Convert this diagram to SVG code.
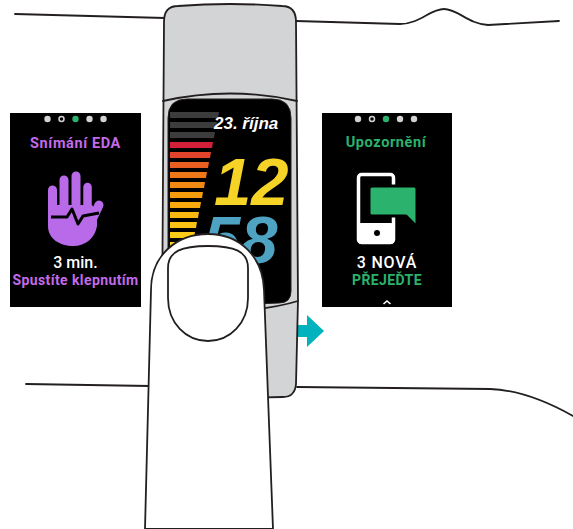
<svg xmlns="http://www.w3.org/2000/svg" width="573" height="529" viewBox="0 0 573 529">
  <style>
    .ink { fill: none; stroke: #231f20; stroke-width: 1.8; stroke-linecap: round; stroke-linejoin: round; }
    .ui { font-family: Roboto, "Liberation Sans", "DejaVu Sans", sans-serif; text-anchor: middle; }
    .ttl { font-size: 14.5px; font-weight: 700; letter-spacing: 0.6px; }
    .big { font-size: 16px; font-weight: 500; fill: #ffffff; }
    .sub { font-size: 14px; font-weight: 700; letter-spacing: 0.4px; }
    .face { font-family: "Liberation Sans", Arial, sans-serif; font-weight: 700; font-style: italic; }
    .dot { fill: #d3d3d3; }
  </style>
  <defs>
    <g id="pager">
      <circle cx="-28" cy="0" r="3.2" class="dot"/>
      <circle cx="-14" cy="0" r="2.5" fill="#000" stroke="#d3d3d3" stroke-width="1.5"/>
      <circle cx="0" cy="0" r="3.2" fill="#2bb26c"/>
      <circle cx="14" cy="0" r="3.2" class="dot"/>
      <circle cx="28" cy="0" r="3.2" class="dot"/>
    </g>
  </defs>

  <rect width="573" height="529" fill="#ffffff"/>

  <!-- arm outline -->
  <g id="arm">
    <path class="ink" d="M15,14 L165,18"/>
    <path class="ink" d="M296,21 L400,24 C420,24 430,9 444,9 C458,9 468,24 488,25 L559,21"/>
    <path class="ink" d="M26,384 L150,386"/>
    <path class="ink" d="M297,387 L490,389 C520,390 548,402 573,416"/>
  </g>

  <!-- left screen: EDA scan -->
  <g id="panel-eda">
    <rect x="10" y="113" width="131" height="194" fill="#000"/>
    <use href="#pager" x="75.5" y="119"/>
    <text class="ui ttl" x="75.5" y="148" fill="#c46ae9">Snímání EDA</text>
    <g fill="#b86ae8" stroke="#b86ae8" stroke-linecap="round">
      <line x1="52.5" y1="190" x2="52.5" y2="222" stroke-width="9"/>
      <line x1="64" y1="180" x2="64" y2="215" stroke-width="9"/>
      <line x1="76" y1="176" x2="76" y2="215" stroke-width="9"/>
      <line x1="87.5" y1="187" x2="87.5" y2="218" stroke-width="8.5"/>
      <line x1="99" y1="205" x2="90" y2="224" stroke-width="9"/>
      <path stroke="none" d="M48,205 L48,226 C48,239 60,246 73,246 C86,246 95,238 97,226 L97,212 L92,205 Z"/>
    </g>
    <polyline points="51,217 67,217 72,209 78,224 83,216 99,213" fill="none" stroke="#000" stroke-width="3" stroke-linejoin="round"/>
    <text class="ui big" x="75.5" y="268">3 min.</text>
    <text class="ui sub" x="75.5" y="285" fill="#c46ae9">Spustíte klepnutím</text>
  </g>

  <!-- right screen: notifications -->
  <g id="panel-notify">
    <rect x="322" y="113" width="130" height="194" fill="#000"/>
    <use href="#pager" x="386" y="119"/>
    <text class="ui ttl" x="386" y="147" fill="#2bb26c">Upozornění</text>
    <rect x="358.5" y="174.5" width="35" height="68" rx="3" fill="none" stroke="#fff" stroke-width="3.5"/>
    <rect x="358" y="223" width="36" height="21" rx="3" fill="#fff"/>
    <circle cx="377" cy="233" r="3" fill="#000"/>
    <path d="M372,186 L414,186 Q417,186 417,189 L417,227 L406,216 L372,216 Q369,216 369,213 L369,189 Q369,186 372,186 Z" fill="#2bb26c" stroke="#000" stroke-width="3" stroke-linejoin="round"/>
    <text class="ui big" x="387" y="268" letter-spacing="0.8">3 NOVÁ</text>
    <text class="ui sub" x="387" y="285" fill="#2bb26c">PŘEJEĎTE</text>
    <path d="M383.5,304 L387,301 L390.5,304" fill="none" stroke="#fff" stroke-width="1.6"/>
  </g>

  <!-- swipe arrow -->
  <g id="connectors">
    <path id="swipe-arrow" d="M280,325 L307,325 L307,315 L324,331 L307,347 L307,337 L280,337 Z" fill="#00b2bd"/>
  </g>

  <!-- tracker band with clock face -->
  <g id="tracker">
    <path d="M164,22 Q164,6 178,6 Q230,2 282,6 Q296,6 296,22 L298,300 L296,384 Q295,397 283,397 L240,398 L180,398 L162,330 Z" fill="#d3d4d6" stroke="#231f20" stroke-width="1.8" stroke-linejoin="round"/>
    <path class="ink" d="M163,101 Q230,86 297,101"/>
    <path d="M168,330 L168,118 Q168,99 187,99 L272,99 Q291,99 291,118 L291,291 Q291,303 279,303 L200,306 Z" fill="#000" stroke="#231f20" stroke-width="1"/>
    <path class="ink" d="M240,311 Q275,308 298,301"/>
    <g id="activity-bars">
      <polygon points="170,112 219,112 218,118 170,118" fill="#3c3c3c"/>
      <polygon points="170,122 217,122 216,128 170,128" fill="#3c3c3c"/>
      <polygon points="170,132 215,132 214,138 170,138" fill="#3c3c3c"/>
      <polygon points="170,142 213,142 212,148 170,148" fill="#d31f37"/>
      <polygon points="170,152 211,152 210,158 170,158" fill="#e2432b"/>
      <polygon points="170,162 209,162 208,168 170,168" fill="#e95e21"/>
      <polygon points="170,172 207,172 206,178 170,178" fill="#ee7818"/>
      <polygon points="170,182 205,182 204,188 170,188" fill="#f18a12"/>
      <polygon points="170,192 203,192 202,198 170,198" fill="#f59c0d"/>
      <polygon points="170,202 201,202 200,208 170,208" fill="#f8aa0c"/>
      <polygon points="170,212 199,212 198,218 170,218" fill="#fab70f"/>
      <polygon points="170,222 197,222 196,228 170,228" fill="#fcc214"/>
      <polygon points="170,232 195,232 194,238 170,238" fill="#fdcc19"/>
      <polygon points="170,242 193,242 192,248 170,248" fill="#fdd41d"/>
      <polygon points="170,252 191,252 190,258 170,258" fill="#fed81f"/>
    </g>
    <text class="face" x="214" y="129" font-size="17" fill="#ffffff">23. října</text>
    <text class="face" x="214" y="205" font-size="67" fill="#f5d327">12</text>
    <text class="face" x="203" y="263" font-size="67" fill="#4ea2c2">58</text>
  </g>

  <!-- finger pressing the band -->
  <g id="finger">
    <path d="M145,529 L151,290 C151,256 176,234 208,234 C240,234 263,257 264,290 L273,529 Z" fill="#ffffff" stroke="#231f20" stroke-width="1.8" stroke-linejoin="round"/>
    <path class="ink" d="M168,268 C168,251 182,246 208,246 C234,246 248,251 248,268 L248,298 C248,323 230,341 208,341 C186,341 168,323 168,298 Z"/>
  </g>
</svg>
